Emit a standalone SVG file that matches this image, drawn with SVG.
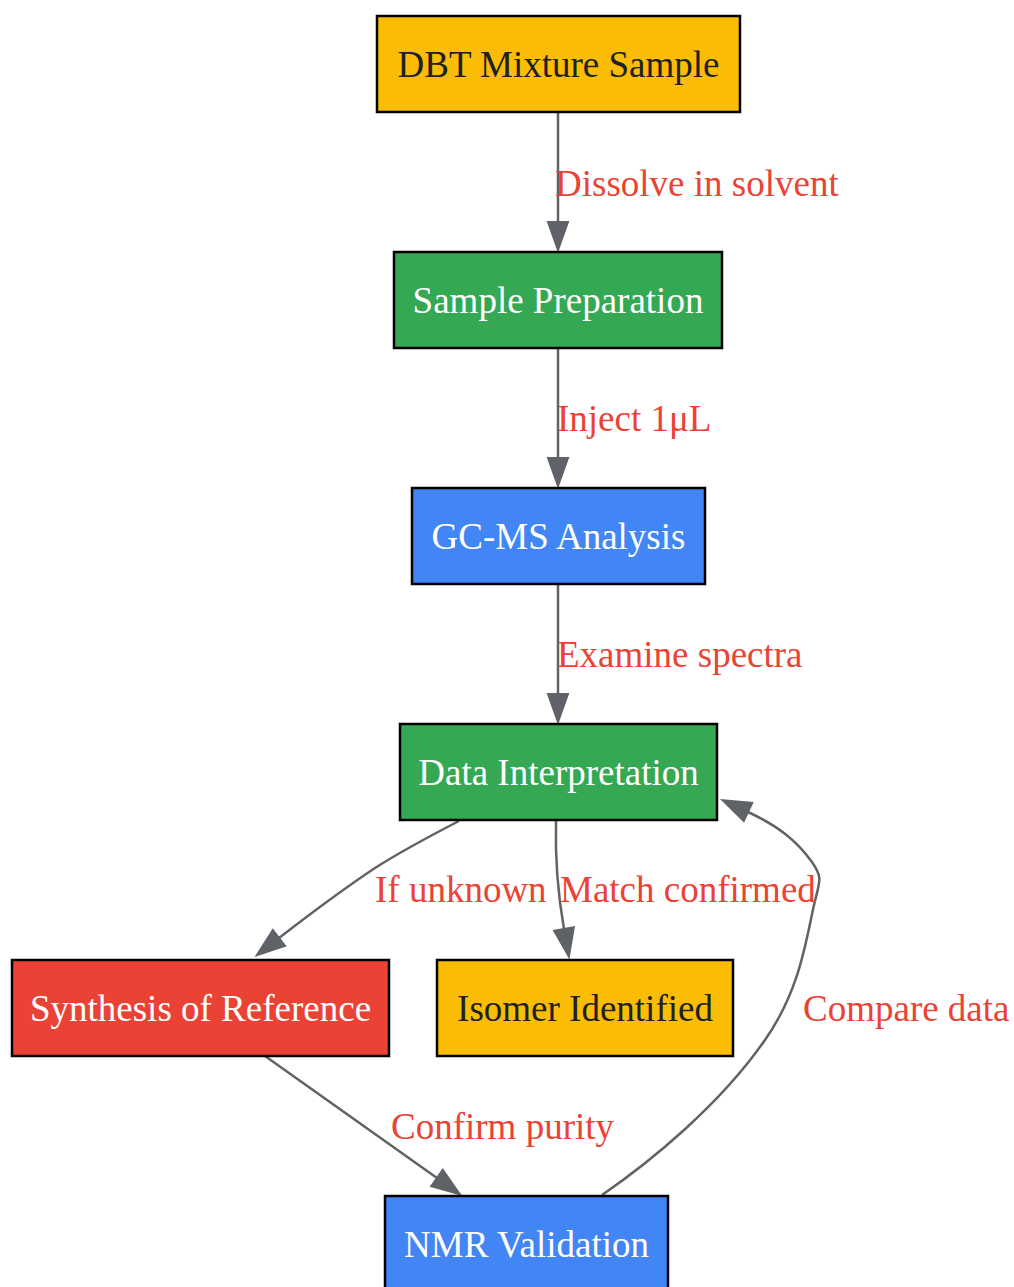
<svg xmlns="http://www.w3.org/2000/svg" width="1014" height="1287" viewBox="0 0 1014 1287">
<style>
  .node rect { stroke: #000000; stroke-width: 2.5; }
  .node text { font-family: "Liberation Serif", "Times New Roman", serif; font-size: 37px; text-anchor: middle; }
  .light { fill: #ffffff; }
  .dark { fill: #202124; }
  .edge { fill: none; stroke: #5F6368; stroke-width: 2.5; }
  .lbl { font-family: "Liberation Serif", "Times New Roman", serif; font-size: 37px; fill: #EA4335; }
</style>
<defs>
  <marker id="ah" markerUnits="userSpaceOnUse" markerWidth="32" markerHeight="26" viewBox="-1 0 32 26" refX="0" refY="13" orient="auto" overflow="visible">
    <path d="M0,3 L28,13 L0,23 z" fill="#5F6368" stroke="#5F6368" stroke-width="2"/>
  </marker>
</defs>
<rect width="1014" height="1287" fill="#ffffff"/>
<g id="connectors">
  <path class="edge" d="M558,112 L558,222" marker-end="url(#ah)"/>
  <path class="edge" d="M558,348 L558,458" marker-end="url(#ah)"/>
  <path class="edge" d="M558,584 L558,694" marker-end="url(#ah)"/>
  <path class="edge" d="M459,821 C430,836 400,852 375,868 C345,888 310,914 279,938" marker-end="url(#ah)"/>
  <path class="edge" d="M556,821 C555,860 558,895 564,929" marker-end="url(#ah)"/>
  <path class="edge" d="M265,1056 L437,1178" marker-end="url(#ah)"/>
  <path class="edge" d="M602,1195 C650,1162 720,1105 765,1040 C800,990 806,940 814,905 C820,880 823,878 812,862 C796,840 778,826 748,812" marker-end="url(#ah)"/>
  <text class="lbl" x="555" y="196">Dissolve in solvent</text>
  <text class="lbl" x="557" y="431">Inject 1μL</text>
  <text class="lbl" x="557" y="667">Examine spectra</text>
  <text class="lbl" x="375" y="902">If unknown</text>
  <text class="lbl" x="560" y="902">Match confirmed</text>
  <text class="lbl" x="803" y="1021">Compare data</text>
  <text class="lbl" x="391" y="1139">Confirm purity</text>
</g>
<g id="node-dbt" class="node">
  <rect x="377" y="16" width="363" height="96" fill="#FBBC05"/>
  <text class="dark" x="558.5" y="77">DBT Mixture Sample</text>
</g>
<g id="node-prep" class="node">
  <rect x="394" y="252" width="328" height="96" fill="#34A853"/>
  <text class="light" x="558" y="313">Sample Preparation</text>
</g>
<g id="node-gcms" class="node">
  <rect x="412" y="488" width="293" height="96" fill="#4285F4"/>
  <text class="light" x="558.5" y="549">GC-MS Analysis</text>
</g>
<g id="node-data" class="node">
  <rect x="400" y="724" width="317" height="96" fill="#34A853"/>
  <text class="light" x="558.5" y="785">Data Interpretation</text>
</g>
<g id="node-synth" class="node">
  <rect x="12" y="960" width="377" height="96" fill="#EA4335"/>
  <text class="light" x="200.5" y="1021">Synthesis of Reference</text>
</g>
<g id="node-isomer" class="node">
  <rect x="437" y="960" width="296" height="96" fill="#FBBC05"/>
  <text class="dark" x="585" y="1021">Isomer Identified</text>
</g>
<g id="node-nmr" class="node">
  <rect x="385" y="1196" width="283" height="96" fill="#4285F4"/>
  <text class="light" x="526.5" y="1257">NMR Validation</text>
</g>
</svg>
